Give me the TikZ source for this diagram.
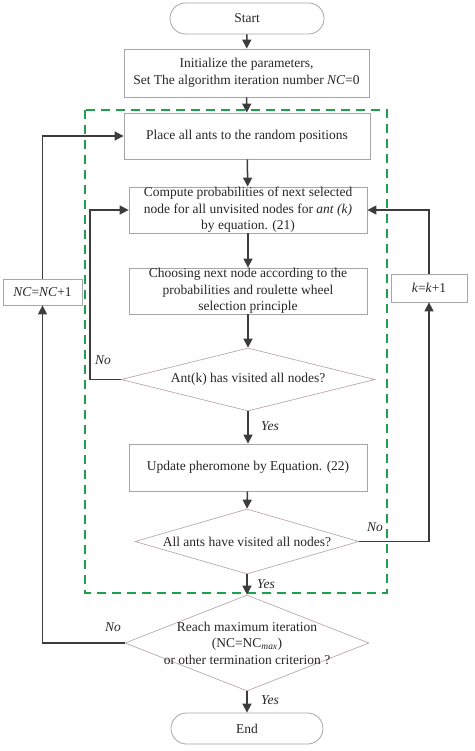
\documentclass[tikz,border=0pt]{standalone}
\usepackage{fontspec}
\setmainfont{Liberation Serif}
\usetikzlibrary{arrows.meta,shapes.geometric,calc}
\definecolor{boxgray}{HTML}{A6A6A6}
\definecolor{diagray}{HTML}{B9A9A9}
\definecolor{arrgray}{HTML}{3C3C3C}
\definecolor{dashgreen}{HTML}{1FA04F}
\begin{document}
\begin{tikzpicture}[x=1pt,y=-1pt,
  every node/.style={font=\fontsize{13.5}{16.5}\selectfont, text=black!85},
  procbox/.style={draw=boxgray, line width=0.8pt, rectangle, inner sep=0pt, align=center},
  termbox/.style={draw=boxgray, line width=0.8pt, rectangle, rounded corners=15.5pt, inner sep=0pt, align=center},
  diabox/.style={draw=diagray, line width=0.7pt, diamond, inner sep=0pt},
  flow/.style={draw=arrgray, line width=1.5pt, -{Triangle[length=9pt,width=9pt]}},
  flowline/.style={draw=arrgray, line width=1.5pt},
  lbl/.style={font=\fontsize{13.5}{16.5}\selectfont\itshape}
]
\useasboundingbox (0,0) rectangle (474,751);
% green dashed region
\draw[dashgreen, line width=1.3pt, dash pattern=on 9pt off 6pt] (85,110) rectangle (387,593);

\node[termbox, minimum width=154pt, minimum height=31pt] (start) at (247,18.5) {Start};
\node[procbox, minimum width=245pt, minimum height=48pt] (init) at (246.5,73) {Initialize the parameters,\\Set The algorithm iteration number \textit{NC}=0};
\node[procbox, minimum width=246pt, minimum height=46pt] (place) at (247,136) {Place all ants to the random positions};
\node[procbox, minimum width=238pt, minimum height=46pt] (comp) at (248,210) {Compute probabilities of next selected\\node for all unvisited nodes for \textit{ant (k)}\\by equation. (21)};
\node[procbox, minimum width=238pt, minimum height=46pt] (choose) at (248,291) {Choosing next node according to the\\probabilities and roulette wheel\\selection principle};
\node[diabox, minimum width=254pt, minimum height=63pt] (d1) at (248,379.5) {};
\node (d1t) at (d1.center) {Ant(k) has visited all nodes?};
\node[procbox, minimum width=238pt, minimum height=47pt] (upd) at (248,467.5) {Update pheromone by Equation. (22)};
\node[diabox, minimum width=224pt, minimum height=65pt] (d2) at (247,541.5) {};
\node (d2t) at (d2.center) {All ants have visited all nodes?};
\node[diabox, minimum width=244pt, minimum height=96pt] (d3) at (247,643) {};
\node[align=center] (d3t) at (d3.center) {Reach maximum iteration\\(NC=NC\textsubscript{\textit{max}})\\or other termination criterion ?};
\node[termbox, minimum width=152pt, minimum height=31pt] (end) at (247,728.5) {End};
\node[procbox, minimum width=79pt, minimum height=26pt] (nc) at (42.5,292) {\textit{NC}=\textit{NC}+1};
\node[procbox, minimum width=76pt, minimum height=28pt] (kk) at (429,288) {\textit{k}=\textit{k}+1};

\coordinate (lx) at (90,0);

\draw[flow] (start) -- (init);
\draw[flow] (init) -- (place);
\draw[flow] (place) -- (comp);
\draw[flow] (comp) -- (choose);
\draw[flow] (choose) -- (d1.north);
\draw[flow] (d1.south) -- (upd);
\draw[flow] (upd) -- (d2.north);
\draw[flow] (d2.south) -- (d3.north);
\draw[flow] (d3.south) -- (end);
\draw[flow] (d1.west) -- (d1.west -| lx) |- (comp.west);
\draw[flow] (d2.east) -| (kk.south);
\draw[flow] (kk.north) |- (comp.east);
\draw[flow] (d3.west) -| (nc.south);
\draw[flow] (nc.north) |- (place.west);

\node[lbl] (no1) at (103,360) {No};
\node[lbl] (yes1) at (270,426) {Yes};
\node[lbl] (no2) at (375,527) {No};
\node[lbl] (yes2) at (266,584) {Yes};
\node[lbl] (no3) at (113,627) {No};
\node[lbl] (yes3) at (270,700) {Yes};
\end{tikzpicture}
\end{document}
